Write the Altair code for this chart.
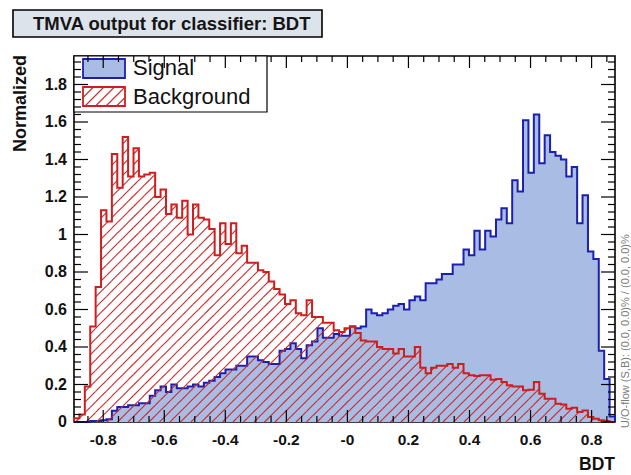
import altair as alt
import numpy as np
import pandas as pd

# ---- histogram contents (normalized, 100 bins) ----
X_MIN, X_MAX = -0.8957, 0.8767
Y_MAX = 1.952
W, H = 541, 366

signal = [
    0.0, 0.0, 0.0, 0.005, 0.005, 0.01, 0.015, 0.06, 0.08, 0.08,
    0.09, 0.09, 0.10, 0.10, 0.14, 0.17, 0.19, 0.16, 0.20, 0.18,
    0.18, 0.19, 0.20, 0.19, 0.21, 0.22, 0.24, 0.26, 0.28, 0.28,
    0.30, 0.30, 0.35, 0.35, 0.33, 0.32, 0.31, 0.31, 0.38, 0.39,
    0.42, 0.39, 0.34, 0.41, 0.43, 0.50, 0.45, 0.45, 0.47, 0.46,
    0.46, 0.51, 0.50, 0.51, 0.60, 0.58, 0.57, 0.58, 0.60, 0.62,
    0.63, 0.60, 0.65, 0.67, 0.65, 0.74, 0.74, 0.76, 0.79, 0.79,
    0.84, 0.84, 0.92, 0.89, 1.02, 0.92, 1.02, 0.99, 1.08, 1.14,
    1.06, 1.29, 1.23, 1.61, 1.33, 1.64, 1.38, 1.53, 1.44, 1.42,
    1.40, 1.31, 1.36, 1.06, 1.21, 0.91, 0.87, 0.38, 0.23, 0.03,
]

background = [
    0.02, 0.04, 0.19, 0.51, 0.72, 1.13, 1.07, 1.43, 1.25, 1.52,
    1.31, 1.46, 1.31, 1.32, 1.33, 1.20, 1.24, 1.11, 1.16, 1.09,
    1.18, 1.00, 1.16, 1.09, 1.08, 1.03, 0.89, 1.06, 0.95, 1.06,
    0.90, 0.94, 0.85, 0.85, 0.81, 0.80, 0.75, 0.71, 0.68, 0.63,
    0.65, 0.58, 0.57, 0.65, 0.56, 0.56, 0.53, 0.53, 0.49, 0.48,
    0.50, 0.51, 0.475, 0.435, 0.43, 0.43, 0.40, 0.39, 0.39, 0.365,
    0.39, 0.35, 0.35, 0.40, 0.29, 0.26, 0.29, 0.30, 0.30, 0.31,
    0.29, 0.31, 0.26, 0.25, 0.245, 0.25, 0.25, 0.226, 0.23, 0.214,
    0.196, 0.19, 0.19, 0.17, 0.172, 0.214, 0.151, 0.124, 0.124, 0.098,
    0.094, 0.071, 0.076, 0.053, 0.062, 0.027, 0.018, 0.010, 0.005, 0.0,
]

x_tick_vals = [-0.8, -0.6, -0.4, -0.2, 0.0, 0.2, 0.4, 0.6, 0.8]
x_tick_text = ["-0.8", "-0.6", "-0.4", "-0.2", "-0", "0.2", "0.4", "0.6", "0.8"]
y_tick_vals = [0.0, 0.2, 0.4, 0.6, 0.8, 1.0, 1.2, 1.4, 1.6, 1.8]
y_tick_text = ["0", "0.2", "0.4", "0.6", "0.8", "1", "1.2", "1.4", "1.6", "1.8"]

title_text = "TMVA output for classifier: BDT"
legend_names = ["Signal", "Background"]
flow_text = "U/O-flow (S,B): (0.0, 0.0)% / (0.0, 0.0)%"

SIG_FILL = "#a9bce3"
SIG_LINE = "#1c20b0"
BKG_LINE = "#d01e1e"
HATCH = "#cc2a2a"
FONT = "Liberation Sans"

n_bins = len(signal)
edges = np.linspace(X_MIN, X_MAX, n_bins + 1)
xscale = alt.Scale(domain=[X_MIN, X_MAX], nice=False, zero=False)
yscale = alt.Scale(domain=[0, Y_MAX], nice=False, zero=False)


def X(f):
    return alt.X(f, type="quantitative", scale=xscale, axis=None)


def Y(f):
    return alt.Y(f, type="quantitative", scale=yscale, axis=None, stack=None)


def outline(vals):
    xs, ys = [edges[0]], [0.0]
    for i, v in enumerate(vals):
        xs += [edges[i], edges[i + 1]]
        ys += [v, v]
    xs.append(edges[-1])
    ys.append(0.0)
    return pd.DataFrame({"x": xs, "y": ys, "k": range(len(xs))})


# one point per bin edge, drawn as a step-after area
sig_steps = pd.DataFrame({"x": edges, "y": list(signal) + [signal[-1]]})
sig_df = outline(signal)
bkg_df = outline(background)

# hatch lines ("/" at 45 degrees on screen) clipped to each background bin
sx = W / (X_MAX - X_MIN)
sy = H / Y_MAX
STEP = 10.5
rows = []
for i, v in enumerate(background):
    ua = (edges[i] - X_MIN) * sx
    ub = (edges[i + 1] - X_MIN) * sx
    vh = v * sy
    for c in np.arange(-H - STEP, W + STEP, STEP):
        u1 = max(ua, c)
        u2 = min(ub, c + vh)
        if u2 > u1:
            rows.append({
                "x": X_MIN + u1 / sx, "y": (u1 - c) / sy,
                "x2": X_MIN + u2 / sx, "y2": (u2 - c) / sy,
            })
hatch_df = pd.DataFrame(rows)

sig_area = alt.Chart(sig_steps).mark_area(
    color=SIG_FILL, opacity=1, interpolate="step-after").encode(
    x=X("x"), y=Y("y"))
sig_line = alt.Chart(sig_df).mark_line(color=SIG_LINE, strokeWidth=2).encode(
    x=X("x"), y=Y("y"), order="k:Q")
bkg_hatch = alt.Chart(hatch_df).mark_rule(
    stroke=HATCH, color=HATCH, strokeWidth=1.1, strokeOpacity=1).encode(
    x=X("x"), y=Y("y"), x2="x2", y2="y2")
bkg_line = alt.Chart(bkg_df).mark_line(color=BKG_LINE, strokeWidth=2).encode(
    x=X("x"), y=Y("y"), order="k:Q")

# ---- legend (pixel coordinates inside the plot frame) ----
LG_W, LG_H = 193, 56
sw_x1, sw_x2 = 9, 51
legend_box = alt.Chart(pd.DataFrame({"a": [0]})).mark_rect(
    fill="white", stroke="black", strokeWidth=1.2).encode(
    x=alt.value(0), x2=alt.value(LG_W), y=alt.value(0), y2=alt.value(LG_H))
sig_sw = alt.Chart(pd.DataFrame({"a": [0]})).mark_rect(
    fill=SIG_FILL, stroke=SIG_LINE, strokeWidth=1.8).encode(
    x=alt.value(sw_x1), x2=alt.value(sw_x2), y=alt.value(3), y2=alt.value(22))
bkg_sw = alt.Chart(pd.DataFrame({"a": [0]})).mark_rect(
    fill="white", stroke=BKG_LINE, strokeWidth=1.8).encode(
    x=alt.value(sw_x1), x2=alt.value(sw_x2), y=alt.value(31), y2=alt.value(50))

lg_rows = []
sw_top, sw_bot = 31, 50
sw_h = sw_bot - sw_top
for c in np.arange(sw_x1 - sw_h - STEP, sw_x2 + STEP, STEP):
    u1 = max(sw_x1, c)
    u2 = min(sw_x2, c + sw_h)
    if u2 > u1:
        lg_rows.append({"x": u1, "y": sw_bot - (u1 - c),
                        "x2": u2, "y2": sw_bot - (u2 - c)})
lg_hatch = alt.Chart(pd.DataFrame(lg_rows)).mark_rule(
    stroke=HATCH, color=HATCH, strokeWidth=1.1).encode(
    x=alt.X("x:Q", scale=None, axis=None), y=alt.Y("y:Q", scale=None, axis=None),
    x2="x2:Q", y2="y2:Q")

legend_text = alt.Chart(pd.DataFrame({"t": legend_names, "py": [19, 47.5]})).mark_text(
    font=FONT, fontSize=22, align="left", baseline="alphabetic", color="#111").encode(
    x=alt.value(59), y=alt.Y("py:Q", scale=None, axis=None), text="t:N")

# ---- ticks drawn inside the frame on all four sides ----
def frac_range(start, stop, step):
    n = int(round((stop - start) / step))
    return [round(start + k * step, 4) for k in range(n + 1)]


x_major = x_tick_vals
x_minor = [v for v in frac_range(-0.85, 0.85, 0.05)
           if min(abs(v - m) for m in x_major) > 1e-6]
y_major = y_tick_vals
y_minor = [v for v in frac_range(0.04, 1.92, 0.04)
           if min(abs(v - m) for m in y_major) > 1e-6]

tick_layers = []
for vals, ln in [(x_major, 12), (x_minor, 6)]:
    d = pd.DataFrame({"v": vals})
    tick_layers.append(alt.Chart(d).mark_rule(color="black", strokeWidth=1.2).encode(
        x=X("v"), y=alt.value(H), y2=alt.value(H - ln)))
    tick_layers.append(alt.Chart(d).mark_rule(color="black", strokeWidth=1.2).encode(
        x=X("v"), y=alt.value(0), y2=alt.value(ln)))
for vals, ln in [(y_major, 14), (y_minor, 7)]:
    d = pd.DataFrame({"v": vals})
    tick_layers.append(alt.Chart(d).mark_rule(color="black", strokeWidth=1.2).encode(
        y=Y("v"), x=alt.value(0), x2=alt.value(ln)))
    tick_layers.append(alt.Chart(d).mark_rule(color="black", strokeWidth=1.2).encode(
        y=Y("v"), x=alt.value(W), x2=alt.value(W - ln)))

# ---- tick labels and titles ----
x_labels = alt.Chart(pd.DataFrame({"v": x_tick_vals, "t": x_tick_text})).mark_text(
    font=FONT, fontWeight="bold", fontSize=15.5, align="center", baseline="middle",
    color="#111").encode(x=X("v"), y=alt.value(H + 18), text="t:N")
y_labels = alt.Chart(pd.DataFrame({"v": y_tick_vals, "t": y_tick_text})).mark_text(
    font=FONT, fontWeight="bold", fontSize=16, align="right", baseline="middle",
    color="#111").encode(x=alt.value(-7), y=Y("v"), text="t:N")

x_title = alt.Chart(pd.DataFrame({"t": ["BDT"]})).mark_text(
    font=FONT, fontWeight="bold", fontSize=17.5, align="right", baseline="middle",
    color="#111").encode(x=alt.value(W), y=alt.value(H + 43), text="t:N")
y_title = alt.Chart(pd.DataFrame({"t": ["Normalized"]})).mark_text(
    font=FONT, fontWeight="bold", fontSize=18, align="right", baseline="middle",
    angle=270, color="#111").encode(x=alt.value(-53), y=alt.value(-1), text="t:N")

title_box = alt.Chart(pd.DataFrame({"a": [0]})).mark_rect(
    fill="#dde3ea", stroke="black", strokeWidth=1.6).encode(
    x=alt.value(-61), x2=alt.value(248), y=alt.value(-46), y2=alt.value(-19))
title_txt = alt.Chart(pd.DataFrame({"t": [title_text]})).mark_text(
    font=FONT, fontWeight="bold", fontSize=18.5, align="left", baseline="middle",
    color="#151515").encode(x=alt.value(-41), y=alt.value(-32), text="t:N")

flow = alt.Chart(pd.DataFrame({"t": [flow_text]})).mark_text(
    font=FONT, fontSize=11, align="left", baseline="middle", angle=270,
    color="#7a7a7a").encode(x=alt.value(552), y=alt.value(372), text="t:N")

chart = alt.layer(
    sig_area, sig_line, bkg_hatch, bkg_line,
    legend_box, sig_sw, bkg_sw, lg_hatch, legend_text,
    *tick_layers,
    x_labels, y_labels, x_title, y_title, title_box, title_txt, flow,
).properties(
    width=W, height=H,
    padding={"left": 74, "top": 56, "right": 16, "bottom": 53},
    autosize=alt.AutoSizeParams(type="none"),
    background="white",
).configure_view(stroke="black", strokeWidth=1.6)

chart.save("out.html", embed_options={"renderer": "svg", "actions": False})
